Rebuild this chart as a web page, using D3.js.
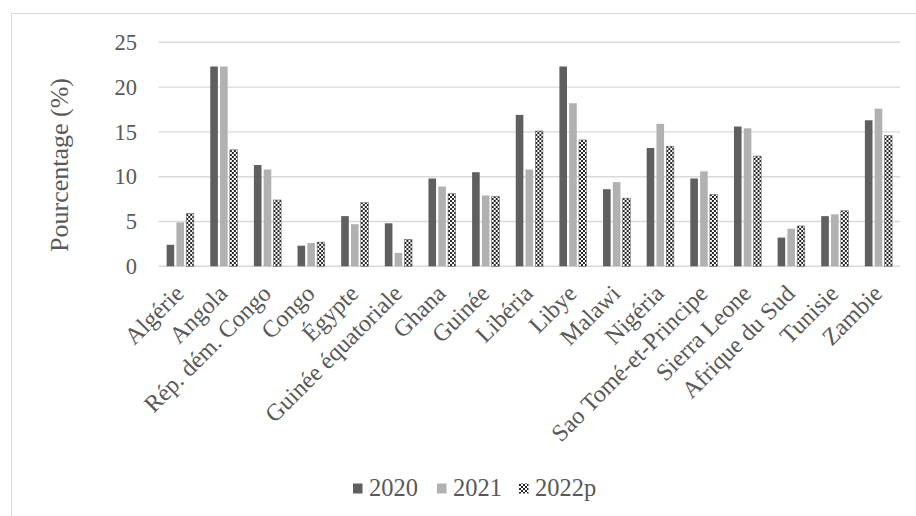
<!DOCTYPE html>
<html>
<head>
<meta charset="utf-8">
<script src="https://cdn.jsdelivr.net/npm/d3@7"></script>
<style>
  html, body { margin: 0; padding: 0; background: #fff; }
  svg { display: block; }
  text { font-family: "Liberation Serif", "Times New Roman", serif; fill: #595959; }
</style>
</head>
<body>
<svg id="chart" width="916" height="516"></svg>
<script>
// Countries shown along the x axis
const categories = [
  "Algérie", "Angola", "Rép. dém. Congo", "Congo", "Égypte", "Guinée équatoriale",
  "Ghana", "Guinée", "Libéria", "Libye", "Malawi", "Nigéria",
  "Sao Tomé-et-Principe", "Sierra Leone", "Afrique du Sud", "Tunisie", "Zambie"
];
const seriesNames = ["2020", "2021", "2022p"];
// Percentages per year
const values2020 = [2.4, 22.3, 11.3, 2.3, 5.6, 4.8, 9.8, 10.5, 16.9, 22.3, 8.6, 13.2, 9.8, 15.6, 3.2, 5.6, 16.3];
const values2021 = [4.9, 22.3, 10.8, 2.6, 4.7, 1.5, 8.9, 7.9, 10.8, 18.2, 9.4, 15.9, 10.6, 15.4, 4.2, 5.8, 17.6];
const values2022 = [5.9, 13.0, 7.4, 2.7, 7.1, 3.0, 8.1, 7.8, 15.1, 14.1, 7.6, 13.4, 8.0, 12.3, 4.5, 6.2, 14.6];
const yTicks = [0, 5, 10, 15, 20, 25];

const seriesValues = [values2020, values2021, values2022];

const svg = d3.select("#chart");

// Chart frame
svg.append("rect")
  .attr("x", 11.5).attr("y", 13.5)
  .attr("width", 920).attr("height", 520)
  .attr("fill", "none").attr("stroke", "#d9d9d9").attr("stroke-width", 1);

// Checkerboard fill for the 2022p series
const defs = svg.append("defs");
const pat = defs.append("pattern")
  .attr("id", "checker")
  .attr("patternUnits", "userSpaceOnUse")
  .attr("width", 4).attr("height", 4);
pat.append("rect").attr("width", 4).attr("height", 4).attr("fill", "#ffffff");
pat.append("rect").attr("x", 0).attr("y", 0).attr("width", 2).attr("height", 2).attr("fill", "#262626");
pat.append("rect").attr("x", 2).attr("y", 2).attr("width", 2).attr("height", 2).attr("fill", "#262626");

const fills = ["#5f5f5f", "#b1b1b1", "url(#checker)"];

const plotLeft = 158.4, plotRight = 900.3;
const x = d3.scaleBand().domain(categories).range([plotLeft, plotRight]).padding(0);
const groupW = 27.2;
const xs = d3.scaleBand().domain(seriesNames).range([-groupW / 2, groupW / 2]).paddingInner(0.224);
const y = d3.scaleLinear().domain([0, 25]).range([266.3, 42.3]);

// Horizontal gridlines
svg.append("g").selectAll("line")
  .data(yTicks)
  .join("line")
  .attr("x1", plotLeft).attr("x2", plotRight)
  .attr("y1", d => y(d)).attr("y2", d => y(d))
  .attr("stroke", "#d9d9d9").attr("stroke-width", 1.4);

// Y tick labels
svg.append("g").selectAll("text")
  .data(yTicks)
  .join("text")
  .attr("x", 137).attr("y", d => y(d))
  .attr("dy", "0.34em")
  .attr("text-anchor", "end")
  .attr("font-size", 22.5)
  .text(d => d);

// Y axis title
svg.append("text")
  .attr("transform", "translate(68,165) rotate(-90)")
  .attr("text-anchor", "middle")
  .attr("font-size", 26)
  .text("Pourcentage (%)");

// Bars
const rows = categories.map((c, i) => ({ c, vals: seriesNames.map((s, k) => ({ s, k, v: seriesValues[k][i] })) }));
const groups = svg.append("g").selectAll("g")
  .data(rows)
  .join("g")
  .attr("transform", d => `translate(${x(d.c) + x.bandwidth() / 2},0)`);
groups.selectAll("rect")
  .data(d => d.vals)
  .join("rect")
  .attr("x", d => xs(d.s))
  .attr("width", xs.bandwidth())
  .attr("y", d => y(d.v))
  .attr("height", d => y(0) - y(d.v))
  .attr("fill", d => fills[d.k])
  .attr("stroke", d => d.k === 2 ? "#6a6a6a" : "none")
  .attr("stroke-width", 0.6);

// Category labels, rotated
svg.append("g").selectAll("text")
  .data(categories)
  .join("text")
  .attr("transform", d => `translate(${x(d) + x.bandwidth() / 2 + 5},295) rotate(-45)`)
  .attr("text-anchor", "end")
  .attr("font-size", 24)
  .text(d => d);

// Legend
const legendX = [353, 437, 519];
const legend = svg.append("g").selectAll("g")
  .data(seriesNames)
  .join("g")
  .attr("transform", (d, i) => `translate(${legendX[i]},0)`);
legend.append("rect")
  .attr("x", 0).attr("y", 483.5)
  .attr("width", 9.5).attr("height", 10)
  .attr("fill", (d, i) => fills[i]);
legend.append("text")
  .attr("x", 16).attr("y", 495.5)
  .attr("font-size", 24.5)
  .text(d => d);
</script>
</body>
</html>
